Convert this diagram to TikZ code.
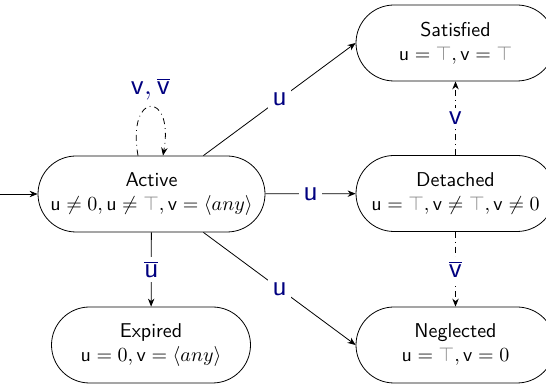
\documentclass[tikz,border=0pt]{standalone}
\usetikzlibrary{arrows.meta}
\definecolor{lblnavy}{RGB}{0,0,128}
\newcommand{\gtop}{{\color{gray}\top}}
\begin{document}
\begin{tikzpicture}[x=0.5pt,y=-0.5pt,
  statebox/.style={draw, rectangle, rounded corners=19pt, minimum height=38pt,
    minimum width=99.5pt, align=center, font=\sffamily, inner sep=2pt},
  lbl/.style={fill=white, text=lblnavy, font=\fontsize{13.5}{16}\selectfont\sffamily, inner sep=2pt},
  >={Stealth[length=4pt,width=3.2pt,inset=1.3pt]}]
\useasboundingbox (0,0) rectangle (546,389);
\node[statebox, minimum width=113.5pt] (Active) at (151.5,194)
  {Active\\ $\mathsf{u}\neq 0,\mathsf{u}\neq\gtop,\mathsf{v}=\langle any\rangle$};
\node[statebox] (Satisfied) at (455.5,43)
  {Satisfied\\ $\mathsf{u}=\gtop,\mathsf{v}=\gtop$};
\node[statebox] (Detached) at (455.5,193.5)
  {Detached\\ $\mathsf{u}=\gtop,\mathsf{v}\neq\gtop,\mathsf{v}\neq 0$};
\node[statebox] (Expired) at (151,345)
  {Expired\\ $\mathsf{u}=0,\mathsf{v}=\langle any\rangle$};
\node[statebox] (Neglected) at (455.5,345)
  {Neglected\\ $\mathsf{u}=\gtop,\mathsf{v}=0$};
\coordinate (init) at (0,194);
\draw[->] (init) -- (Active);
\draw[->] (Active) -- node[lbl]{$\mathsf{u}$} (Satisfied.west);
\draw[->] (Active) -- node[lbl]{$\mathsf{u}$} (Detached);
\draw[->] (Active) -- node[lbl]{$\mathsf{u}$} (Neglected.west);
\draw[->] (Active) -- node[lbl]{$\overline{\mathsf{u}}$} (Expired);
\draw[->,dash dot] (Detached) -- node[lbl]{$\mathsf{v}$} (Satisfied);
\draw[->,dash dot] (Detached) -- node[lbl]{$\overline{\mathsf{v}}$} (Neglected);
\draw[->,dash dot] ([xshift=-6.75pt]Active.north) .. controls +(100:33pt) and +(80:33pt) ..
  node[lbl, above=1pt]{$\mathsf{v},\overline{\mathsf{v}}$} ([xshift=5.75pt]Active.north);
\end{tikzpicture}
\end{document}
